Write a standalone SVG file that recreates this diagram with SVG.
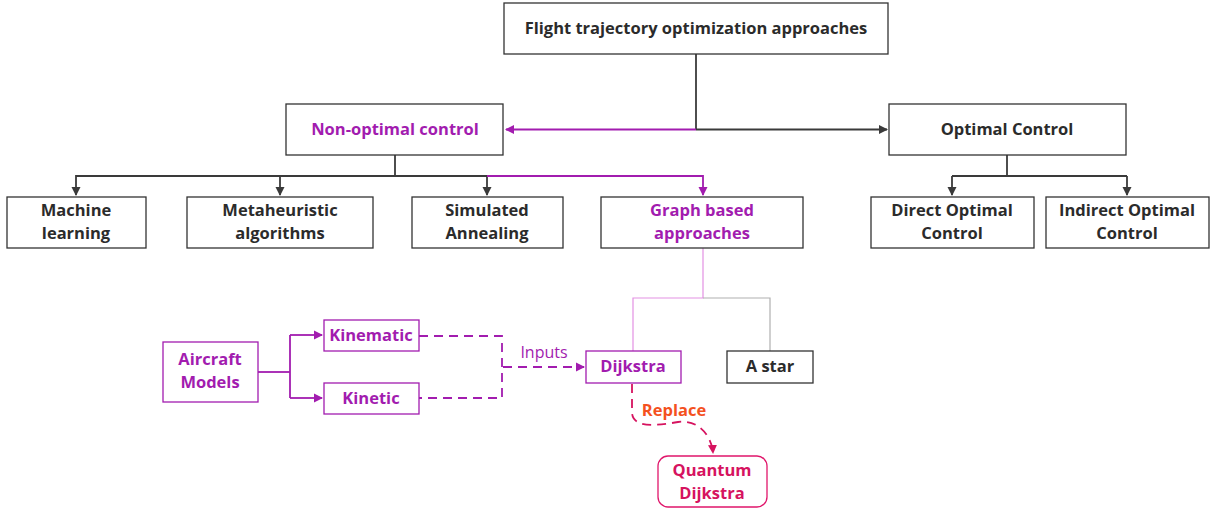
<svg xmlns="http://www.w3.org/2000/svg" width="1214" height="512" viewBox="0 0 1214 512">
<defs>
<style>
.box{fill:#fff;stroke:#333;stroke-width:1.3}
.pbox{fill:#fff;stroke:#a21caf;stroke-width:1.3}
.t{font-family:"Open Sans","Liberation Sans",sans-serif;font-weight:700;font-size:16.5px;fill:#2b2b2b;text-anchor:middle;dominant-baseline:central}
.pt{fill:#a21caf}
.qt{fill:#d6135f}
.dk{fill:none;stroke:#3a3a3a;stroke-width:1.8}
.pu{fill:none;stroke:#a21caf;stroke-width:1.8}
.pd{fill:none;stroke:#a21caf;stroke-width:1.8;stroke-dasharray:9 6}
</style>
<marker id="ad" markerWidth="10" markerHeight="10" refX="8" refY="5" orient="auto" markerUnits="userSpaceOnUse"><path d="M0,0.5 L9,5 L0,9.5 z" fill="#3a3a3a"/></marker>
<marker id="ap" markerWidth="10" markerHeight="10" refX="8" refY="5" orient="auto" markerUnits="userSpaceOnUse"><path d="M0,0.5 L9,5 L0,9.5 z" fill="#a21caf"/></marker>
<marker id="aq" markerWidth="10" markerHeight="10" refX="8" refY="5" orient="auto" markerUnits="userSpaceOnUse"><path d="M0,0.5 L9,5 L0,9.5 z" fill="#d6135f"/></marker>
</defs>
<rect width="1214" height="512" fill="#fff"/>
<g id="connectors">
<path class="dk" d="M696,54 V129.5"/>
<path class="pu" d="M696,129.5 H506" marker-end="url(#ap)"/>
<path class="dk" d="M696,129.5 H887" marker-end="url(#ad)"/>
<path class="dk" d="M395,155 V176"/>
<path class="dk" d="M487,176 H76 V195" marker-end="url(#ad)"/>
<path class="dk" d="M280,176 V195" marker-end="url(#ad)"/>
<path class="dk" d="M487,176 V195" marker-end="url(#ad)"/>
<path class="pu" d="M487,176 H703 V195" marker-end="url(#ap)"/>
<path class="dk" d="M1007,155 V176"/>
<path class="dk" d="M952,176 H1127"/>
<path class="dk" d="M952,176 V195" marker-end="url(#ad)"/>
<path class="dk" d="M1127,176 V195" marker-end="url(#ad)"/>
<path d="M703,248 V298 H633 V351" fill="none" stroke="#e391e3" stroke-width="1.2"/>
<path d="M703,298 H770 V351" fill="none" stroke="#b0b0b0" stroke-width="1.2"/>
<path class="pu" d="M258,372 H290"/>
<path class="pu" d="M290,335 V398"/>
<path class="pu" d="M290,335 H322" marker-end="url(#ap)"/>
<path class="pu" d="M290,398 H322" marker-end="url(#ap)"/>
<path class="pd" d="M419,336 H502 V398 H419"/>
<path class="pd" d="M503,367 H584" marker-end="url(#ap)"/>
<text class="t" x="544" y="352" style="font-weight:400;font-size:16px;fill:#a21caf">Inputs</text>
<path d="M632,384 V412 C632,428 655,426 678,422 C700,419 712,438 713,453" fill="none" stroke="#d6135f" stroke-width="1.8" stroke-dasharray="9 6" marker-end="url(#aq)"/>
<text class="t" x="674" y="409" style="fill:#f4511e">Replace</text>
</g>
<g id="n-root"><rect class="box" x="504" y="3" width="384" height="51"/><text class="t" x="696" y="27">Flight trajectory optimization approaches</text></g>
<g id="n-nonopt"><rect class="box" x="286" y="104" width="217" height="51"/><text class="t pt" x="395" y="128">Non-optimal control</text></g>
<g id="n-opt"><rect class="box" x="889" y="104" width="237" height="51"/><text class="t" x="1007" y="128">Optimal Control</text></g>
<g id="n-ml"><rect class="box" x="7" y="197" width="139" height="51"/><text class="t" x="76" y="209">Machine</text><text class="t" x="76" y="232">learning</text></g>
<g id="n-meta"><rect class="box" x="187" y="197" width="186" height="51"/><text class="t" x="280" y="209">Metaheuristic</text><text class="t" x="280" y="232">algorithms</text></g>
<g id="n-sa"><rect class="box" x="412" y="197" width="151" height="51"/><text class="t" x="487" y="209">Simulated</text><text class="t" x="487" y="232">Annealing</text></g>
<g id="n-graph"><rect class="box" x="601" y="197" width="202" height="51"/><text class="t pt" x="702" y="209">Graph based</text><text class="t pt" x="702" y="232">approaches</text></g>
<g id="n-direct"><rect class="box" x="871" y="197" width="163" height="51"/><text class="t" x="952" y="209">Direct Optimal</text><text class="t" x="952" y="232">Control</text></g>
<g id="n-indirect"><rect class="box" x="1046" y="197" width="163" height="51"/><text class="t" x="1127" y="209">Indirect Optimal</text><text class="t" x="1127" y="232">Control</text></g>
<g id="n-aircraft"><rect class="pbox" x="163" y="342" width="95" height="60"/><text class="t pt" x="210" y="358">Aircraft</text><text class="t pt" x="210" y="381">Models</text></g>
<g id="n-kinematic"><rect class="pbox" x="324" y="320" width="95" height="31"/><text class="t pt" x="371" y="334">Kinematic</text></g>
<g id="n-kinetic"><rect class="pbox" x="324" y="383" width="95" height="31"/><text class="t pt" x="371" y="397">Kinetic</text></g>
<g id="n-dijkstra"><rect class="pbox" x="586" y="351" width="95" height="32"/><text class="t pt" x="633" y="365">Dijkstra</text></g>
<g id="n-astar"><rect class="box" x="727" y="351" width="86" height="32"/><text class="t" x="770" y="365">A star</text></g>
<g id="n-quantum"><rect x="658" y="456" width="109" height="51" rx="10" fill="#fff" stroke="#e0166b" stroke-width="1.3"/><text class="t qt" x="712" y="469">Quantum</text><text class="t qt" x="712" y="492">Dijkstra</text></g>
</svg>
